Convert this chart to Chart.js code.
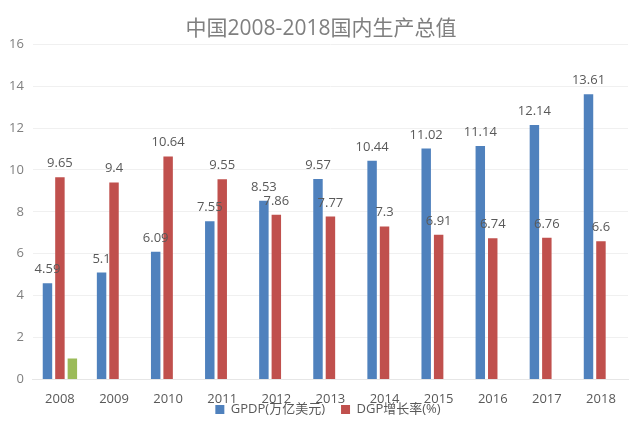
<!DOCTYPE html>
<html>
<head>
<meta charset="utf-8">
<script src="https://cdn.jsdelivr.net/npm/chart.js@4/dist/chart.umd.min.js"></script>
<style>
  html, body { margin: 0; padding: 0; background: #fff; }
  #wrap { width: 641px; height: 432px; }
</style>
</head>
<body>
<div id="wrap"><canvas id="gdpChart"></canvas></div>
<script>
const years = ['2008', '2009', '2010', '2011', '2012', '2013', '2014', '2015', '2016', '2017', '2018'];
const gdp = [4.59, 5.1, 6.09, 7.55, 8.53, 9.57, 10.44, 11.02, 11.14, 12.14, 13.61];
const growth = [9.65, 9.4, 10.64, 9.55, 7.86, 7.77, 7.3, 6.91, 6.74, 6.76, 6.6];
const extra = [1, null, null, null, null, null, null, null, null, null, null];
const yTicks = [0, 2, 4, 6, 8, 10, 12, 14, 16];

const fontFamily = "'Open Sans', 'Noto Sans CJK SC', sans-serif";
// legend overlaps the year labels a bit, like the original
const legendShrink = 24;
const legendLift = 24;

const barLabels = {
    id: 'barLabels',
    beforeLayout(chart) {
        const lg = chart.legend;
        if (lg && !lg._squeezed) {
            const fit = lg.fit;
            lg.fit = function () {
                fit.call(this);
                this._fullHeight = this.height;
                this.height = Math.max(0, this.height - legendShrink);
            };
            lg._squeezed = true;
        }
    },
    afterLayout(chart) {
        const lg = chart.legend;
        if (lg) {
            lg.top -= legendLift;
            lg.height = lg._fullHeight;
            lg.bottom = lg.top + lg.height;
            // legend centered under the plot area
            lg.left += 14;
            lg.right += 14;
        }
        // center the title on the whole canvas
        if (chart.titleBlock) {
            chart.titleBlock.left += 7;
            chart.titleBlock.right += 7;
        }
    },
    // values above the bars
    afterDatasetsDraw(chart) {
        const c = chart.ctx;
        c.save();
        c.font = "13px " + fontFamily;
        c.fillStyle = '#595959';
        c.textAlign = 'center';
        c.textBaseline = 'alphabetic';
        [0, 1].forEach(function (di) {
            const meta = chart.getDatasetMeta(di);
            meta.data.forEach(function (bar, i) {
                const v = chart.data.datasets[di].data[i];
                if (v == null) return;
                c.fillText(String(v), bar.x, bar.y - 10);
            });
        });
        c.restore();
    }
};

let ctx = document.getElementById('gdpChart').getContext('2d');
let gdpChart = new Chart(ctx, {
    type: 'bar',
    data: {
        labels: years,
        datasets: [
            {
                label: 'GPDP(万亿美元)',
                data: gdp,
                backgroundColor: '#4F81BD',
                borderWidth: 0
            },
            {
                label: 'DGP增长率(%)',
                data: growth,
                backgroundColor: '#C0504D',
                borderWidth: 0
            },
            {
                label: '',
                data: extra,
                backgroundColor: '#9BBB59',
                borderWidth: 0
            }
        ]
    },
    options: {
        responsive: true,
        maintainAspectRatio: false,
        animation: false,
        categoryPercentage: 0.69,
        barPercentage: 0.76,
        layout: {
            padding: { left: 0, right: 13, top: 0, bottom: 6 }
        },
        plugins: {
            title: {
                display: true,
                text: '中国2008-2018国内生产总值',
                color: '#7f7f7f',
                font: { size: 21, family: fontFamily, weight: 'normal' },
                padding: { top: 16, bottom: 3 }
            },
            legend: {
                position: 'bottom',
                labels: {
                    boxWidth: 9,
                    boxHeight: 9,
                    padding: 16,
                    color: '#595959',
                    font: { size: 13, family: fontFamily },
                    filter: function (item) { return item.datasetIndex < 2; }
                }
            },
            tooltip: { enabled: false }
        },
        scales: {
            x: {
                grid: { display: false },
                border: { color: '#e6e6e6' },
                ticks: {
                    color: '#595959',
                    padding: 4,
                    font: { size: 13, family: fontFamily }
                }
            },
            y: {
                min: 0,
                max: 16,
                afterBuildTicks: function (axis) {
                    axis.ticks = yTicks.map(function (v) { return { value: v }; });
                },
                grid: { color: '#f0f0f0', drawTicks: false },
                border: { display: false },
                ticks: {
                    color: '#7f7f7f',
                    padding: 9,
                    font: { size: 13, family: fontFamily }
                }
            }
        }
    },
    plugins: [barLabels]
});
</script>
</body>
</html>
